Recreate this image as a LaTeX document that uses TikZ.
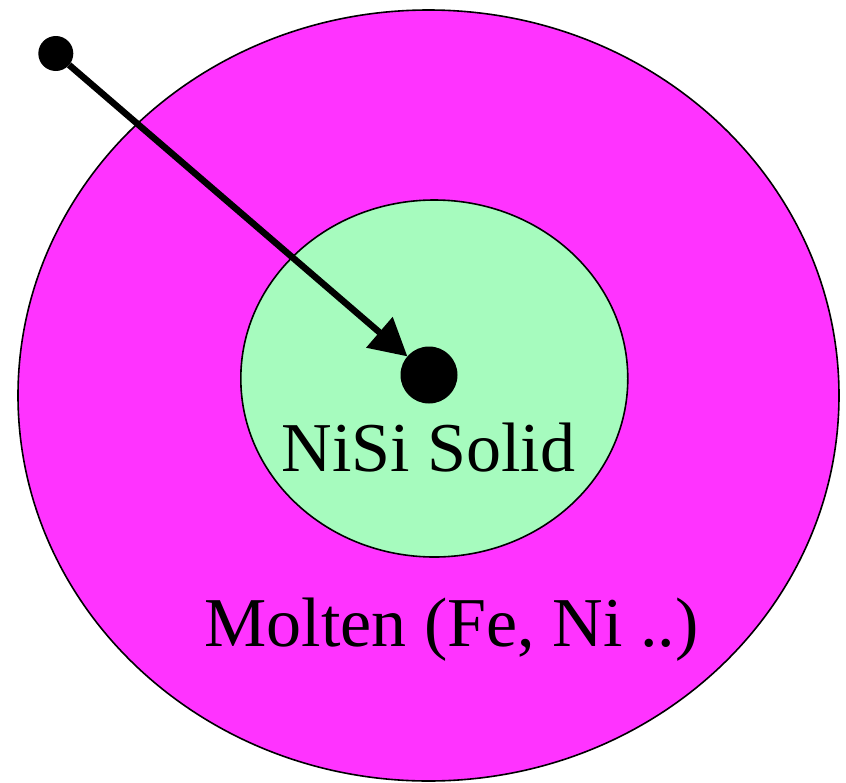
\documentclass[tikz,border=0pt]{standalone}
\usepackage{fontspec}
\setmainfont{Liberation Serif}
\usetikzlibrary{arrows.meta,shapes.geometric}
\definecolor{molten}{RGB}{255,51,255}
\definecolor{solidgreen}{RGB}{166,251,190}
\tikzset{
  region/.style={draw=black, line width=1.6pt, ellipse, inner sep=0pt},
  dotnode/.style={circle, fill=black, inner sep=0pt, outer sep=0pt},
  txtlabel/.style={anchor=base, inner sep=0pt, font=\fontsize{70pt}{84pt}\selectfont},
  pointer/.style={line width=6.5pt, -{Triangle[length=37pt, width=39pt]}}
}
\begin{document}
\begin{tikzpicture}[x=1pt, y=-1pt]
\useasboundingbox (0,0) rectangle (846,782);
\node[region, fill=molten, minimum width=821pt, minimum height=771pt] (outer) at (428.5,395.5) {};
\node[region, fill=solidgreen, minimum width=387pt, minimum height=357pt] (inner) at (434.3,378.5) {};
\node[dotnode, minimum size=35pt] (start) at (55.8,53.5) {};
\node[dotnode, minimum size=57pt] (core) at (429,375) {};
\draw[pointer] (start) -- (core);
\node[txtlabel] (solid) at (428.4,471.7) {NiSi Solid};
\node[txtlabel] (molt) at (451.5,646.7) {Molten (Fe, Ni ..)};
\end{tikzpicture}
\end{document}
